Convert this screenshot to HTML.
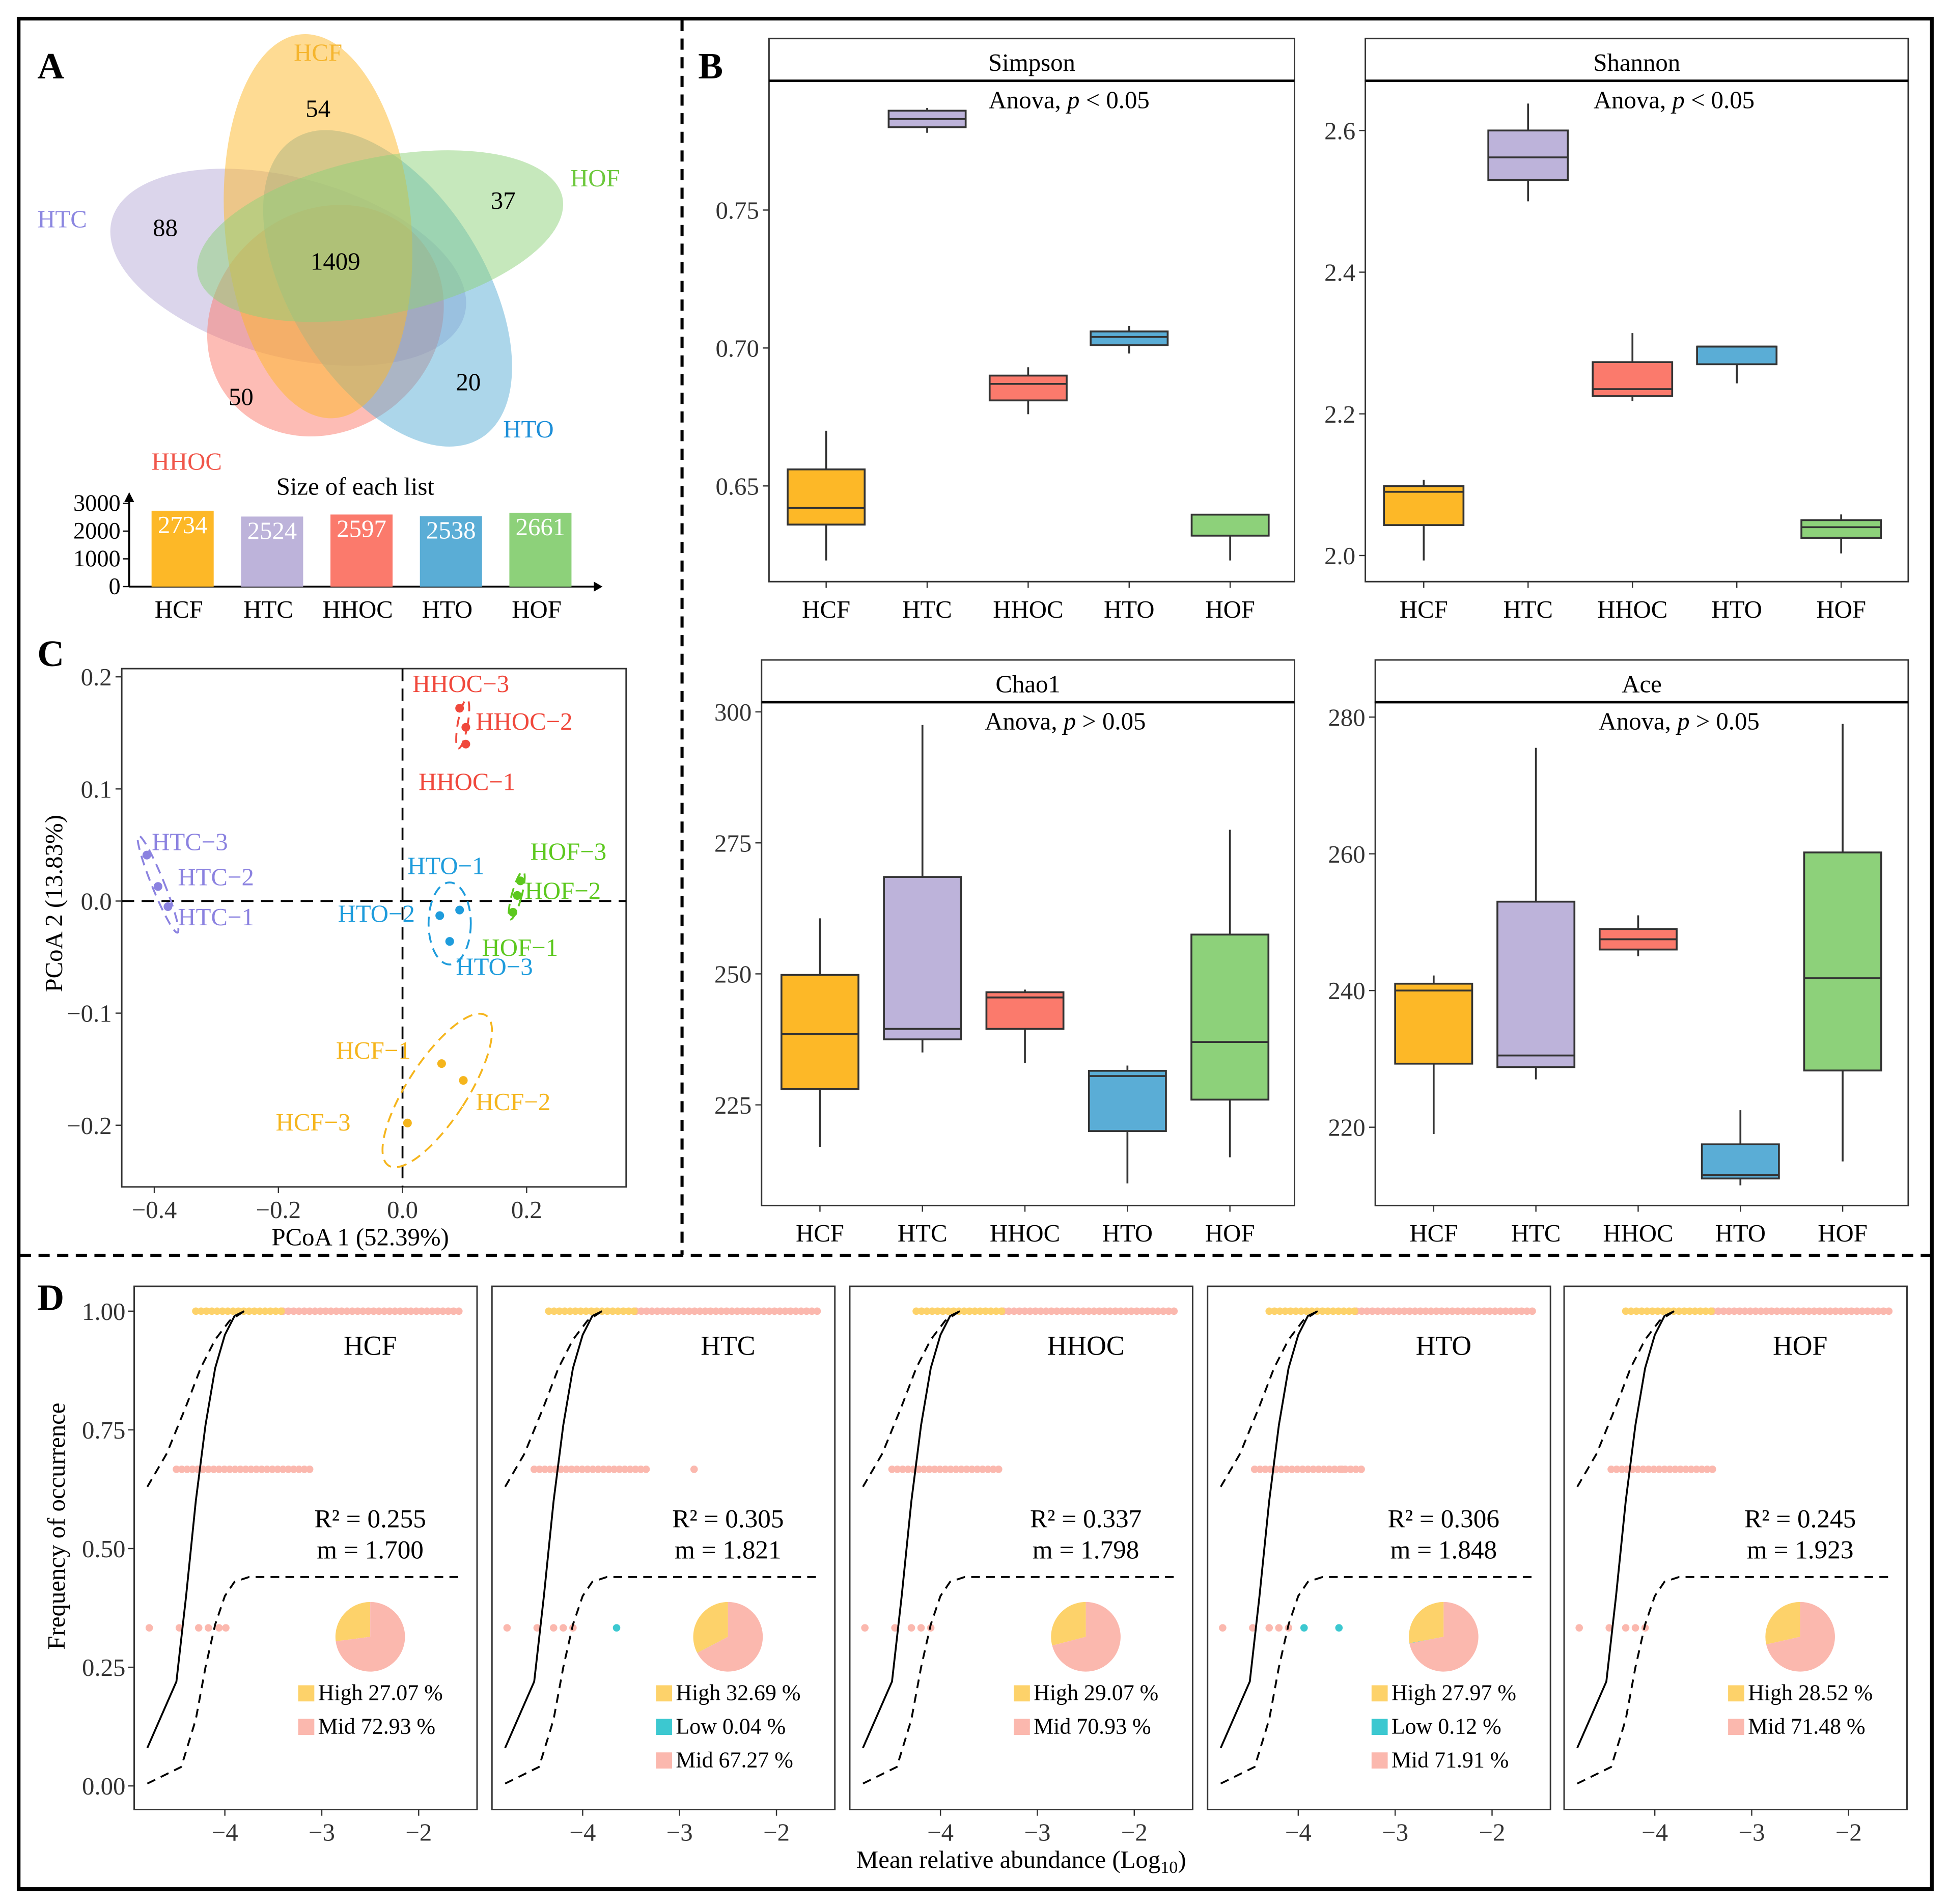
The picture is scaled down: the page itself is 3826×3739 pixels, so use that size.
<!DOCTYPE html>
<html><head><meta charset="utf-8"><style>
html,body{margin:0;padding:0;background:#fff}
svg{display:block;font-family:"Liberation Serif",serif}
</style></head><body>
<svg id="fig" xmlns="http://www.w3.org/2000/svg" width="3826" height="3739" viewBox="0 0 1568 1532" preserveAspectRatio="none">
<rect x="0" y="0" width="1568" height="1532" fill="#fff"/>
<rect x="15" y="15" width="1540" height="1505" fill="none" stroke="#000" stroke-width="3"/>
<line x1="549" y1="16" x2="549" y2="1010" stroke="#000" stroke-width="2.5" stroke-dasharray="9,6"/>
<line x1="16" y1="1010" x2="1554" y2="1010" stroke="#000" stroke-width="2.5" stroke-dasharray="9,6"/>
<g id="root"></g>
</svg>
<script>
// ---------- data ----------
const groups=["HCF","HTC","HHOC","HTO","HOF"];
const colors=["#FDB827","#BDB3DA","#FB7A6C","#5AADD6","#8DD17A"];
const vennUnique=[54,88,50,20,37];
const vennCore=1409;
const listSizes=[2734,2524,2597,2538,2661];
const sizeTicks=[0,1000,2000,3000];
const simpson=[[0.623,0.636,0.642,0.656,0.670],[0.778,0.780,0.783,0.786,0.787],[0.676,0.681,0.687,0.690,0.693],[0.698,0.701,0.704,0.706,0.708],[0.623,0.632,0.632,0.6396,0.6396]];
const simpsonTicks=[0.65,0.70,0.75];
const shannon=[[1.993,2.043,2.09,2.098,2.107],[2.50,2.53,2.562,2.60,2.638],[2.218,2.225,2.235,2.273,2.314],[2.243,2.27,2.295,2.295,2.295],[2.003,2.025,2.04,2.05,2.058]];
const shannonTicks=[2.0,2.2,2.4,2.6];
const chao1=[[217,228,238.5,249.8,260.6],[235,237.5,239.5,268.5,297.5],[233,239.5,245.5,246.5,247],[210,220,230.5,231.5,232.5],[215,226,237,257.5,277.5]];
const chao1Ticks=[225,250,275,300];
const ace=[[219,229.3,240,241,242.2],[227,228.8,230.5,253,275.5],[245,246,247.5,249,251],[211.5,212.5,213,217.5,222.5],[215,228.3,241.8,260.2,279]];
const aceTicks=[220,240,260,280];
const pcoaLabels=["HCF-1","HCF-2","HCF-3","HTC-1","HTC-2","HTC-3","HHOC-1","HHOC-2","HHOC-3","HTO-1","HTO-2","HTO-3","HOF-1","HOF-2","HOF-3"];
const pcoaX=[0.063,0.098,0.008,-0.378,-0.394,-0.412,0.102,0.102,0.092,0.092,0.06,0.076,0.178,0.185,0.19];
const pcoaY=[-0.145,-0.16,-0.198,-0.005,0.013,0.041,0.14,0.155,0.172,-0.008,-0.013,-0.036,-0.01,0.005,0.018];
const pcoaXTicks=[-0.4,-0.2,0.0,0.2];
const pcoaYTicks=[-0.2,-0.1,0.0,0.1,0.2];
const ncmR2=["0.255","0.305","0.337","0.306","0.245"];
const ncmM=["1.700","1.821","1.798","1.848","1.923"];
const ncmHigh=[27.07,32.69,29.07,27.97,28.52];
const ncmLow=[0,0.04,0,0.12,0];
const ncmHighRange=[[-4.3,-3.4],[-4.35,-3.45],[-4.25,-3.35],[-4.3,-3.4],[-4.3,-3.4]];
const ncmMidTop=[[-3.4,-1.55],[-3.45,-1.55],[-3.35,-1.55],[-3.4,-1.55],[-3.4,-1.55]];
const ncmMid667=[[-4.5,-3.1],[-4.5,-3.3],[-4.5,-3.35],[-4.45,-3.35],[-4.45,-3.4]];
const ncmExtra667=[null,-2.85,null,-3.55,null];
const ncmRow333=[[-4.78,-4.47,-4.27,-4.17,-4.06,-3.99],[-4.78,-4.47,-4.3,-4.2,-4.1],[-4.78,-4.47,-4.3,-4.2,-4.1],[-4.78,-4.47,-4.3,-4.2,-4.1],[-4.78,-4.47,-4.3,-4.2,-4.1]];
const ncmLow333=[[],[-3.65],[],[-3.94,-3.58],[]];
const fitX=[-4.8,-4.5,-4.4,-4.3,-4.2,-4.1,-4.0,-3.9,-3.8];
const fitY=[0.08,0.22,0.4,0.6,0.76,0.88,0.95,0.99,1.0];
const upX=[-4.8,-4.6,-4.4,-4.25,-4.1,-3.95,-3.8];
const upY=[0.63,0.7,0.8,0.88,0.94,0.98,1.0];
const loX=[-4.8,-4.45,-4.3,-4.2,-4.1,-4.0,-3.9,-3.75,-1.55];
const loY=[0.005,0.04,0.14,0.25,0.34,0.4,0.43,0.44,0.44];
const ncmXTicks=[-4,-3,-2];
const ncmYTicks=[0,0.25,0.5,0.75,1.0];

// ---------- helpers ----------
const NS="http://www.w3.org/2000/svg";
const root=document.getElementById("root");
function el(tag,attrs,parent){const e=document.createElementNS(NS,tag);for(const k in attrs)e.setAttribute(k,attrs[k]);(parent||root).appendChild(e);return e;}
function tx(x,y,s,size,anchor,fill,parent,extra){const t=el("text",Object.assign({x:x,y:y,"font-size":size,"text-anchor":anchor||"start",fill:fill||"#000"},extra||{}),parent);t.textContent=s;return t;}

// ---------- Panel letters ----------
[["A",30,63],["B",562,63],["C",30,536],["D",30,1054]].forEach(p=>{
 const t=tx(p[1],p[2],p[0],30,"start","#000",root,{"font-weight":"bold"});
 
 
});

// ---------- Panel A Venn ----------
const venn=el("g",{});


const ell=[[256,182,75,155,-5],[232,215,147,72,15],[262,258,100,88,-40],[312,232,78,142,-32],[306,190,150,63,-12]];
const order=[1,2,3,0,4];
order.forEach(i=>{const e=ell[i];const o=el("ellipse",{cx:0,cy:0,rx:e[2],ry:e[3],fill:colors[i],"fill-opacity":i==1?0.55:0.5,transform:`translate(${e[0]},${e[1]}) rotate(${e[4]})`},venn);
 
 });
const vennLblPos=[[256,49,"#F5B52E"],[30,183,"#8B86E0"],[122,378,"#F0564A"],[405,352,"#1E8FD8"],[459,150,"#6CC83C"]];
const vennNumPos=[[256,94],[133,190],[194,326],[377,314],[405,168]];
groups.forEach((g,i)=>{
 const t=tx(vennLblPos[i][0],vennLblPos[i][1],g,20,i==0?"middle":"start",vennLblPos[i][2],venn);
 
 
 const n=tx(vennNumPos[i][0],vennNumPos[i][1],String(vennUnique[i]),20,"middle","#000",venn);
 
 
});
const core=tx(270,217,String(vennCore),20,"middle","#000",venn);



// size bar chart
const sb=el("g",{});


const sbY=v=>472-v/3000*67;
const sbX=i=>122+i*72;
const st=tx(286,398,"Size of each list",20,"middle","#000",sb);


el("line",{x1:104,y1:472,x2:478,y2:472,stroke:"#000","stroke-width":1.5},sb);
el("polygon",{points:"478,468 485,472 478,476",fill:"#000"},sb);
el("line",{x1:104,y1:472,x2:104,y2:402,stroke:"#000","stroke-width":1.5},sb);
el("polygon",{points:"100,404 104,396 108,404",fill:"#000"},sb);
sizeTicks.forEach(v=>{el("line",{x1:99,y1:sbY(v),x2:104,y2:sbY(v),stroke:"#000"},sb);
 const t=tx(97,sbY(v)+6,String(v),19,"end","#000",sb);
 
 });
listSizes.forEach((v,i)=>{
 const r=el("rect",{x:sbX(i),y:sbY(v),width:50,height:472-sbY(v),fill:colors[i]},sb);
 
 
 const t=tx(sbX(i)+25,sbY(v)+18,String(v),20,"middle","#fff",sb);
 
 
 const c=tx(sbX(i)+22,497,groups[i],20,"middle","#000",sb);
 
 
});

// ---------- Panel B boxplots ----------
function boxPanel(name,title,note,px,py,pw,ph,stripTop,data,ticks,yfun,catX,bw){
 const g=el("g",{});
 
 
 const strip=el("rect",{x:px,y:stripTop,width:pw,height:py-stripTop,fill:"#fff",stroke:"#333","stroke-width":1.2},g);
 
 
 const tt=tx(px+pw/2,stripTop+26,title,20,"middle","#000",g);
 
 
 el("rect",{x:px,y:py,width:pw,height:ph,fill:"none",stroke:"#333","stroke-width":1.2},g);
 el("line",{x1:px,y1:py,x2:px+pw,y2:py,stroke:"#000","stroke-width":2},g);
 const nt=el("text",{x:px+pw/2+30,y:py+22,"font-size":20,"text-anchor":"middle"},g);
 nt.innerHTML='Anova, <tspan font-style="italic">p</tspan> '+note;
 
 
 ticks.forEach(v=>{const y=yfun(v);el("line",{x1:px-5,y1:y,x2:px,y2:y,stroke:"#333"},g);
  const t=tx(px-8,y+7,String(v.toFixed(ticks[0]<1?2:(ticks[0]<10?1:0))),20,"end","#333",g);
  
  });
 data.forEach((s,i)=>{const x=catX(i);
  const b=el("g",{},g);
  
  
  el("line",{x1:x,y1:yfun(s[0]),x2:x,y2:yfun(s[4]),stroke:"#333","stroke-width":1.5},b);
  el("rect",{x:x-bw/2,y:yfun(s[3]),width:bw,height:Math.max(1,yfun(s[1])-yfun(s[3])),fill:colors[i],stroke:"#333","stroke-width":1.5},b);
  el("line",{x1:x-bw/2,y1:yfun(s[2]),x2:x+bw/2,y2:yfun(s[2]),stroke:"#333","stroke-width":1.5},b);
  el("line",{x1:x,y1:py+ph,x2:x,y2:py+ph+5,stroke:"#333"},g);
  const c=tx(x,py+ph+29,groups[i],20,"middle","#000",g);
  
  
 });
}
boxPanel("simpson","Simpson","&lt; 0.05",619,65,423,403,31,simpson,simpsonTicks,v=>391-(v-0.65)*2220,i=>665+i*81.3,62);
boxPanel("shannon","Shannon","&lt; 0.05",1099,65,437,403,31,shannon,shannonTicks,v=>447-(v-2.0)*570,i=>1146+i*84,64);
boxPanel("chao1","Chao1","&gt; 0.05",613,565,429,405,531,chao1,chao1Ticks,v=>889-(v-225)*4.216,i=>660+i*82.5,62);
boxPanel("ace","Ace","&gt; 0.05",1107,565,429,405,531,ace,aceTicks,v=>907-(v-220)*5.5,i=>1154+i*82.3,62);

// ---------- Panel C PCoA ----------
const pc=el("g",{});


const pX=v=>324+v*499.5, pY=v=>725-v*902;
el("rect",{x:98,y:538,width:406,height:417,fill:"none",stroke:"#333","stroke-width":1.2},pc);
el("line",{x1:pX(0),y1:538,x2:pX(0),y2:955,stroke:"#000","stroke-width":1.5,"stroke-dasharray":"10,6"},pc);
el("line",{x1:98,y1:pY(0),x2:504,y2:pY(0),stroke:"#000","stroke-width":1.5,"stroke-dasharray":"10,6"},pc);
pcoaXTicks.forEach(v=>{el("line",{x1:pX(v),y1:955,x2:pX(v),y2:960,stroke:"#333"},pc);
 const t=tx(pX(v),980,v.toFixed(1).replace("-","\u2212"),20,"middle","#333",pc);
 
 });
pcoaYTicks.forEach(v=>{el("line",{x1:93,y1:pY(v),x2:98,y2:pY(v),stroke:"#333"},pc);
 const t=tx(90,pY(v)+7,v.toFixed(1).replace("-","\u2212"),20,"end","#333",pc);
 
 });
const xt=tx(290,1002,"PCoA 1 (52.39%)",20,"middle","#000",pc);


const yt=tx(0,0,"PCoA 2 (13.83%)",20,"middle","#000",pc,{transform:"translate(50,727) rotate(-90)"});


const pColors=["#F5B51C","#8B82E0","#F0483C","#1E9CDC","#5CC81E"];
const pEll=[[0.056,-0.169,24,72,33],[-0.394,0.015,5,42,-22],[0.097,0.158,4,20,10],[0.076,-0.02,17,33,0],[0.184,0.005,4,20,15]];
pEll.forEach((e,i)=>{const o=el("ellipse",{cx:0,cy:0,rx:e[2],ry:e[3],fill:"none",stroke:pColors[i],"stroke-width":1.5,"stroke-dasharray":"8,5",transform:`translate(${pX(e[0])},${pY(e[1])}) rotate(${e[4]})`},pc);
 
 });
const lblOff=[[-85,-11],[10,17],[-106,-1],[8,8],[16,-8],[4,-11],[-38,30],[8,-5],[-38,-20],[-42,-36],[-82,-2],[5,20],[-25,28],[6,-4],[8,-24]];
pcoaLabels.forEach((l,i)=>{const g=Math.floor(i/3);
 const c=el("circle",{cx:pX(pcoaX[i]),cy:pY(pcoaY[i]),r:3.5,fill:pColors[g]},pc);
 
 
 const t=tx(pX(pcoaX[i])+lblOff[i][0],pY(pcoaY[i])+lblOff[i][1]+7,l.replace("-","\u2212"),20,"start",pColors[g],pc);
 
 
});

// ---------- Panel D neutral community model ----------
const nX0=[108,396,684,972,1259];
const nd=el("g",{});


const ylab=tx(0,0,"Frequency of occurrence",20,"middle","#000",nd,{transform:"translate(52,1228) rotate(-90)"});


const xlab=el("text",{x:822,y:1503,"font-size":20,"text-anchor":"middle"},nd);
xlab.innerHTML='Mean relative abundance (Log<tspan font-size="14" dy="4">10</tspan><tspan dy="-4">)</tspan>';


ncmYTicks.forEach(v=>{const y=1437-v*382;el("line",{x1:103,y1:y,x2:108,y2:y,stroke:"#333"},nd);
 const t=tx(101,y+7,v.toFixed(2),20,"end","#333",nd);
 
 });
groups.forEach((gname,p)=>{
 const ox=nX0[p];
 const X=v=>ox+73+(v+4)*78, Y=v=>1437-v*382;
 const g=el("g",{},nd);
 
 
 el("rect",{x:ox,y:1035,width:276,height:421,fill:"none",stroke:"#333","stroke-width":1.2},g);
 ncmXTicks.forEach(v=>{el("line",{x1:X(v),y1:1456,x2:X(v),y2:1461,stroke:"#333"},g);
  const t=tx(X(v),1481,String(v).replace("-","\u2212"),20,"middle","#333",g);
  
  });
 function dotRow(a,b,y,col){for(let v=a;v<=b+1e-9;v+=0.055){const d=el("circle",{cx:X(v),cy:Y(y),r:3,fill:col},g);}}
 dotRow(ncmMidTop[p][0],ncmMidTop[p][1],1,"#FBB8AE");
 dotRow(ncmHighRange[p][0],ncmHighRange[p][1],1,"#FDD26A");
 dotRow(ncmMid667[p][0],ncmMid667[p][1],0.667,"#FBB8AE");
 if(ncmExtra667[p]!==null){const d=el("circle",{cx:X(ncmExtra667[p]),cy:Y(0.667),r:3,fill:"#FBB8AE"},g);}
 ncmRow333[p].forEach(v=>{const d=el("circle",{cx:X(v),cy:Y(0.333),r:3,fill:"#FBB8AE"},g);});
 ncmLow333[p].forEach(v=>{const d=el("circle",{cx:X(v),cy:Y(0.333),r:3,fill:"#3CC8D0"},g);});
 const path=(xs,ys)=>xs.map((x,i)=>(i?"L":"M")+X(x).toFixed(1)+","+Y(ys[i]).toFixed(1)).join(" ");
 const fit=el("path",{d:path(fitX,fitY),fill:"none",stroke:"#000","stroke-width":1.5},g);
 
 
 const up=el("path",{d:path(upX,upY),fill:"none",stroke:"#000","stroke-width":1.5,"stroke-dasharray":"7,5"},g);
 
 
 const lo=el("path",{d:path(loX,loY),fill:"none",stroke:"#000","stroke-width":1.5,"stroke-dasharray":"7,5"},g);
 
 
 const ttl=tx(ox+190,1090,gname,22,"middle","#000",g);
 
 
 const r2=tx(ox+190,1229,"R\u00B2 = "+ncmR2[p],21,"middle","#000",g);
 
 
 const mm=tx(ox+190,1254,"m = "+ncmM[p],21,"middle","#000",g);
 
 
 const cx=ox+190, cy=1317, r=28;
 const fr=[ncmHigh[p],ncmLow[p],100-ncmHigh[p]-ncmLow[p]];
 const pc2=["#FDD26A","#3CC8D0","#FBB8AE"];
 let a0=0;
 fr.forEach((f,k)=>{if(f<=0)return;const a1=a0+f/100*2*Math.PI;
  const p1=[cx-Math.sin(a0)*r,cy-Math.cos(a0)*r],p2=[cx-Math.sin(a1)*r,cy-Math.cos(a1)*r];
  const s=el("path",{d:`M${cx},${cy} L${p1[0]},${p1[1]} A${r},${r} 0 ${a1-a0>Math.PI?1:0} 0 ${p2[0]},${p2[1]} Z`,fill:pc2[k]},g);
  
  
  a0=a1;});
 const leg=[["High",ncmHigh[p],0],["Low",ncmLow[p],1],["Mid",100-ncmHigh[p]-ncmLow[p],2]].filter(e=>e[1]>0);
 leg.forEach((e,k)=>{const ly=1362+k*27;
  el("rect",{x:ox+132,y:ly-6,width:13,height:13,fill:pc2[e[2]]},g);
  const t=tx(ox+148,ly+6,e[0]+" "+e[1].toFixed(2)+" %",18,"start","#000",g);
  
  });
});
</script>
</body></html>
